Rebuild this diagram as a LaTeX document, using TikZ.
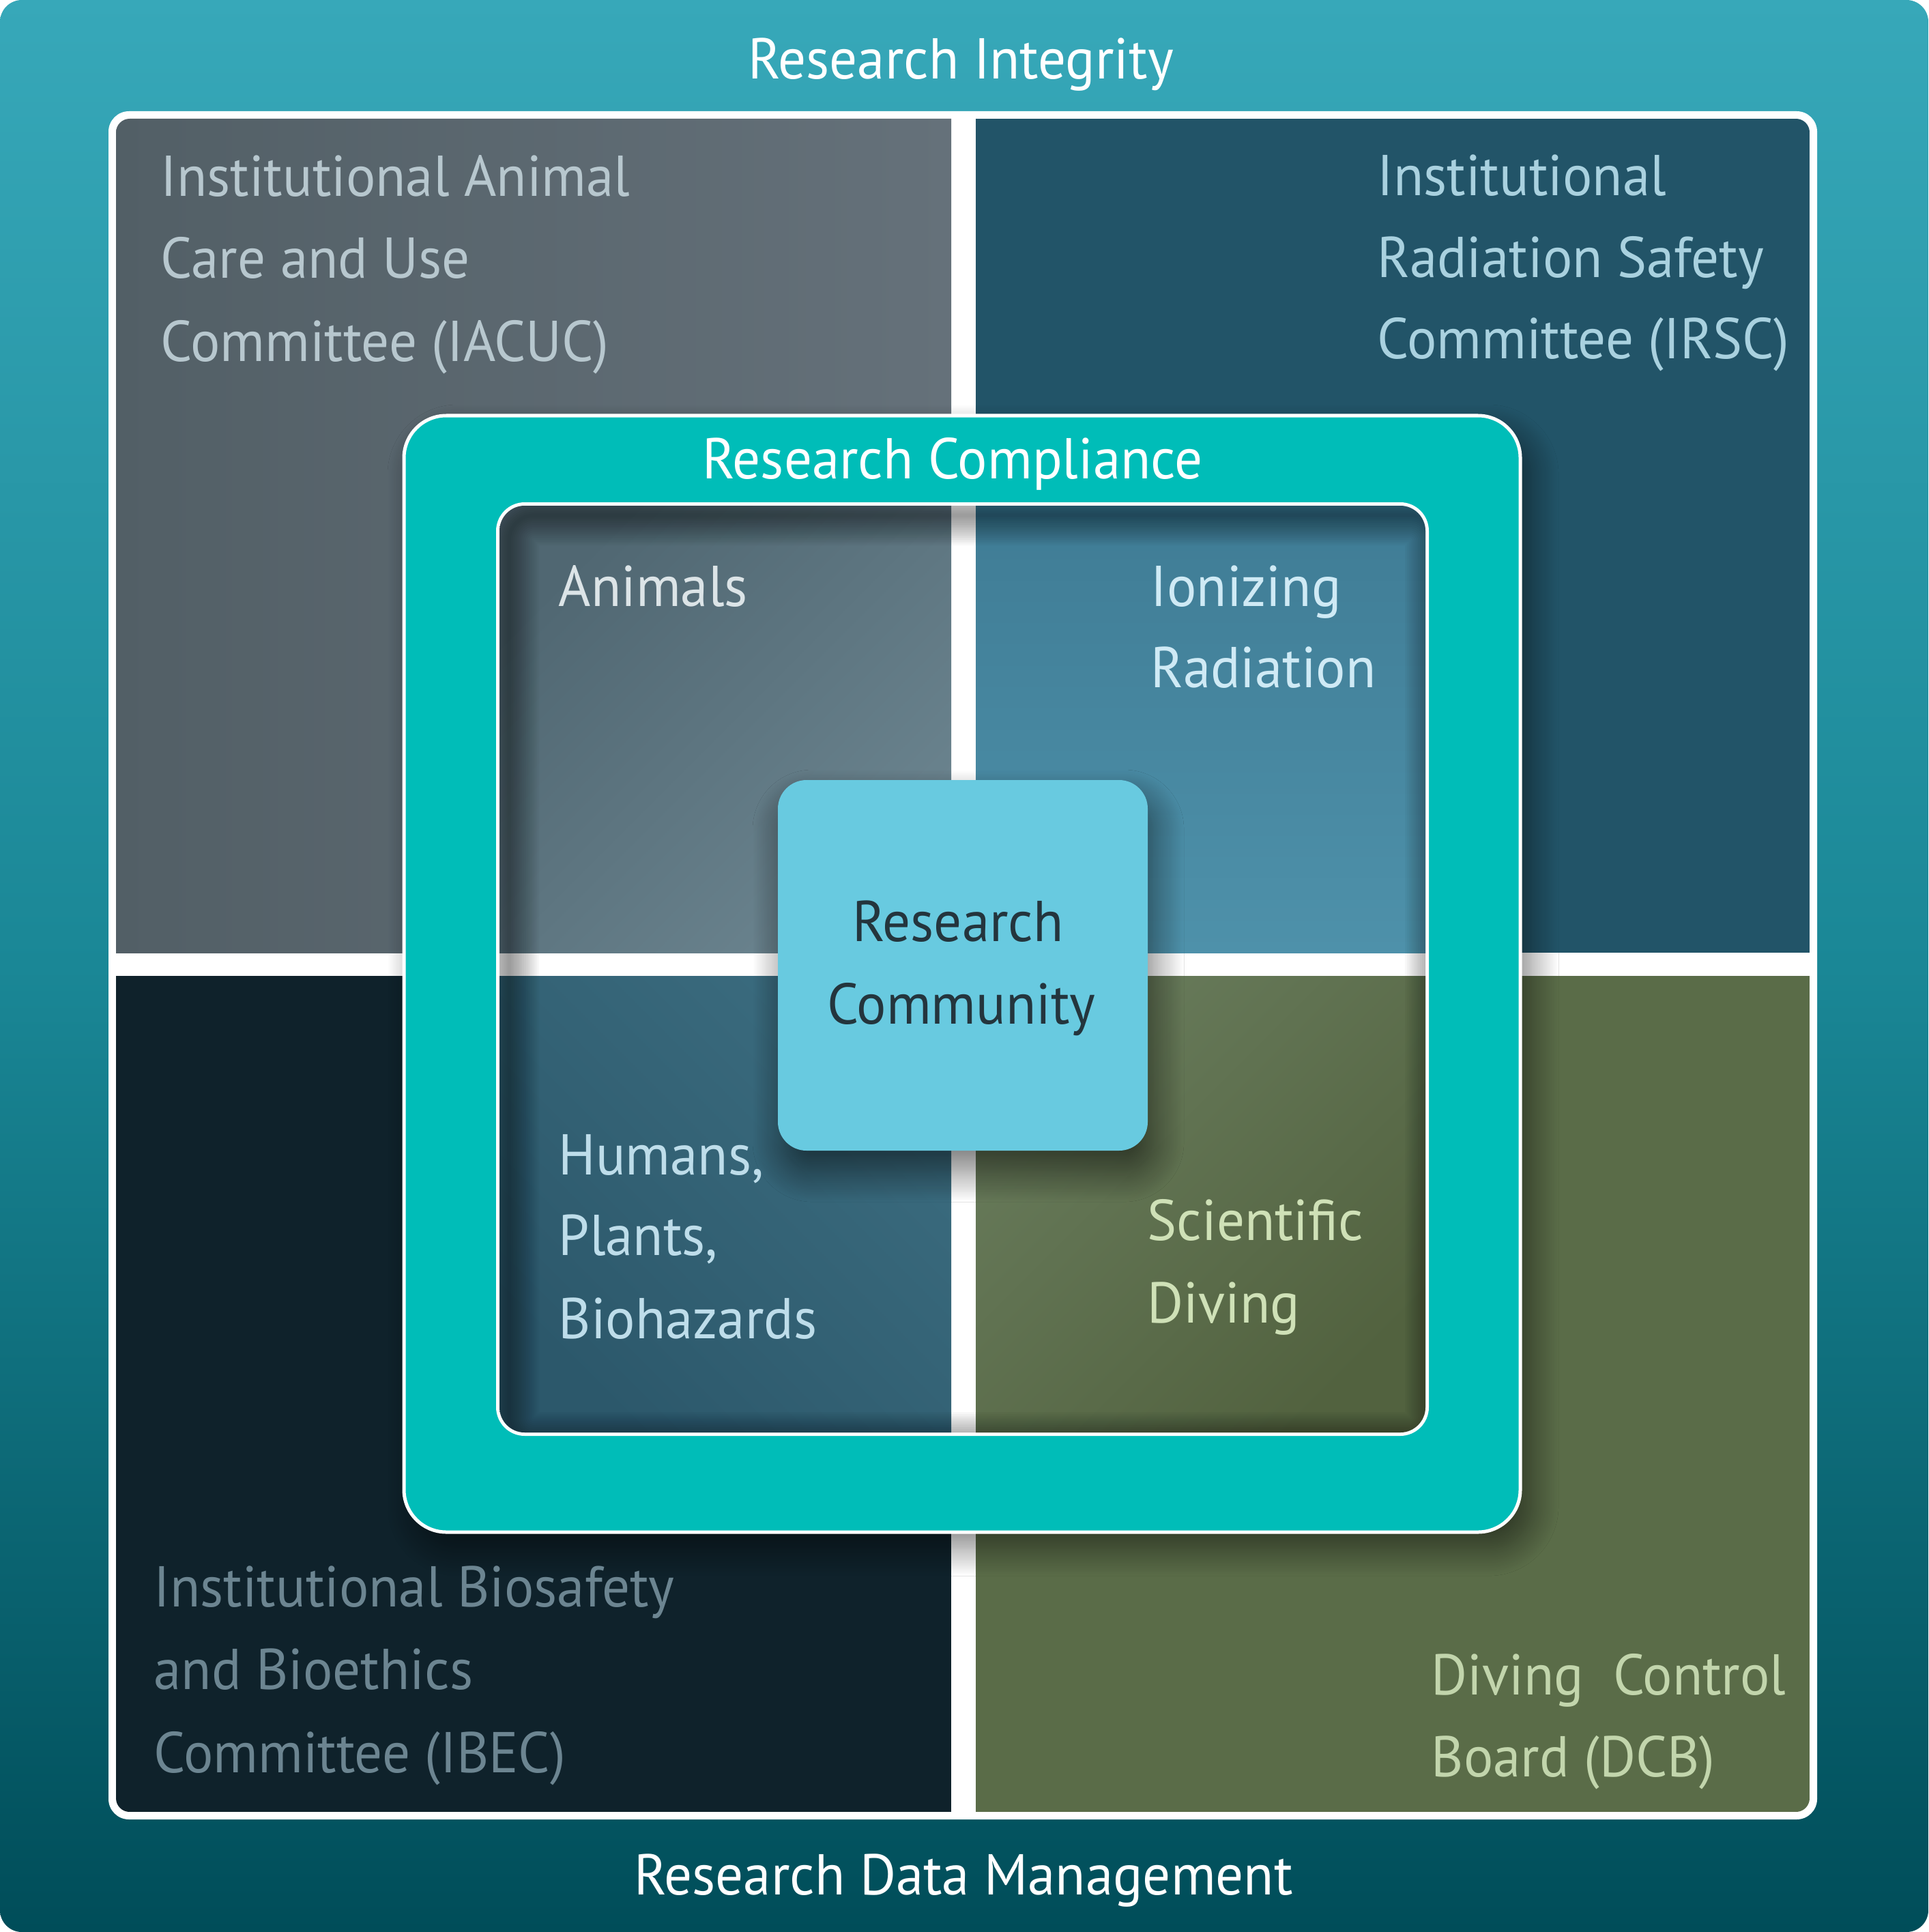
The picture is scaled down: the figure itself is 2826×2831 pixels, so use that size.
\documentclass[tikz,border=0pt]{standalone}
\usepackage{fontspec}
\setmainfont{PT Sans}[FakeStretch=0.96]
\usetikzlibrary{shadows.blur}
\definecolor{itop}{HTML}{37A8B9}
\definecolor{imid}{HTML}{1A8796}
\definecolor{ibot}{HTML}{004D59}
\definecolor{tlA}{HTML}{525F66}
\definecolor{tlB}{HTML}{65717A}
\definecolor{trcol}{HTML}{225468}
\definecolor{blcol}{HTML}{0F222B}
\definecolor{brcol}{HTML}{5A6C48}
\definecolor{compl}{HTML}{00BDB8}
\definecolor{iTLa}{HTML}{506772}
\definecolor{iTLb}{HTML}{6B848F}
\definecolor{iTRa}{HTML}{3F7C95}
\definecolor{iTRb}{HTML}{4E91AA}
\definecolor{iBLa}{HTML}{3B6C7F}
\definecolor{iBLb}{HTML}{2C586B}
\definecolor{iBRa}{HTML}{687B5B}
\definecolor{iBRb}{HTML}{52623F}
\definecolor{rcfill}{HTML}{68CAE0}
\definecolor{txTL}{HTML}{B7C7CE}
\definecolor{txTR}{HTML}{A9D1DF}
\definecolor{txBL}{HTML}{6C8591}
\definecolor{txBR}{HTML}{C2D5AC}
\definecolor{txAn}{HTML}{DCE4E7}
\definecolor{txIo}{HTML}{CFEAF5}
\definecolor{txHu}{HTML}{BEDDEA}
\definecolor{txSD}{HTML}{CFE1B7}
\definecolor{txRC}{HTML}{24353D}
\newcommand\lbfont{\fontsize{24}{29}\selectfont}
\tikzset{
  lbl/.style={font=\lbfont, inner sep=0pt, anchor=base west},
  ctr/.style={font=\lbfont, inner sep=0pt, anchor=base},
}
\begin{document}
\begin{tikzpicture}[x=0.01cm, y=-0.01cm]
\useasboundingbox (0,0) rectangle (2826,2831);
% outer background
\shade[rounded corners=0.32cm, top color=itop, bottom color=ibot, middle color=imid] (0,0) rectangle (2826,2831);
% white frame and four committee panels
\fill[white, rounded corners=0.3cm] (159,163) rectangle (2663,2666);
\begin{scope}
  \clip[rounded corners=0.2cm] (170,174) rectangle (2652,2655);
  \shade[left color=tlA, right color=tlB] (170,174) rectangle (1394,1396);
  \fill[trcol] (1430,174) rectangle (2652,1396);
  \fill[blcol] (170,1430) rectangle (1394,2655);
  \fill[brcol] (1430,1430) rectangle (2652,2655);
\end{scope}
% research compliance box
\path[fill=compl, draw=white, line width=0.05cm, rounded corners=0.62cm,
  blur shadow={shadow xshift=0.16cm, shadow yshift=-0.24cm, shadow blur radius=0.4cm,
    shadow blur steps=24, shadow opacity=50}]
  (592,609) rectangle (2228,2245);
% inner box
\fill[white, rounded corners=0.42cm] (727,736) rectangle (2094,2104);
\begin{scope}
  \clip[rounded corners=0.37cm] (732,741) rectangle (2089,2099);
  \shade[top color=iTLa, bottom color=iTLb, shading angle=45] (732,741) rectangle (1394,1396);
  \shade[top color=iTRa, bottom color=iTRb] (1430,741) rectangle (2089,1396);
  \shade[top color=iBLa, bottom color=iBLb, shading angle=-45] (732,1430) rectangle (1394,2099);
  \shade[top color=iBRa, bottom color=iBRb, shading angle=45] (1430,1430) rectangle (2089,2099);
  \foreach \i in {1,...,16}
    \draw[black, opacity=0.028, line width=\i*0.055cm, rounded corners=0.37cm, shift={(14,14)}]
      (732,741) rectangle (2089,2099);
\end{scope}
% research community box
\fill[rcfill, rounded corners=0.42cm,
  blur shadow={shadow xshift=0.08cm, shadow yshift=-0.3cm, shadow blur radius=0.45cm,
    shadow blur steps=24, shadow opacity=55}]
  (1140,1143) rectangle (1682,1686);
% titles
\node[ctr, white] (ri) at (1408,116) {Research Integrity};
\node[ctr, white] (rcp) at (1396,702) {Research Compliance};
\node[ctr, white] (rdm) at (1412,2776) {Research Data Management};
% committees
\node[lbl, txTL] (tl1) at (235,288) {Institutional Animal};
\node[lbl, txTL] (tl2) at (235,408) {Care and Use};
\node[lbl, txTL] (tl3) at (235,530) {Committee (IACUC)};
\node[lbl, txTR] (tr1) at (2018,287) {Institutional};
\node[lbl, txTR] (tr2) at (2018,407) {Radiation Safety};
\node[lbl, txTR] (tr3) at (2018,526) {Committee (IRSC)};
\node[lbl, txBL] (bl1) at (225,2354) {Institutional Biosafety};
\node[lbl, txBL] (bl2) at (225,2475) {and Bioethics};
\node[lbl, txBL] (bl3) at (225,2597) {Committee (IBEC)};
\node[lbl, txBR] (br1) at (2097,2483) {Diving\ \ Control};
\node[lbl, txBR] (br2) at (2097,2603) {Board (DCB)};
% areas
\node[lbl, txAn] (an1) at (818,888) {Animals};
\node[lbl, txIo] (io1) at (1686,888) {Ionizing};
\node[lbl, txIo] (io2) at (1686,1007) {Radiation};
\node[lbl, txHu] (hu1) at (818,1721) {Humans,};
\node[lbl, txHu] (hu2) at (818,1839) {Plants,};
\node[lbl, txHu] (hu3) at (818,1961) {Biohazards};
\node[lbl, txSD] (sd1) at (1681,1817) {Scientific};
\node[lbl, txSD] (sd2) at (1681,1938) {Diving};
\node[ctr, txRC] (rc1) at (1404,1379) {Research};
\node[ctr, txRC] (rc2) at (1409,1500) {Community};
\end{tikzpicture}
\end{document}
